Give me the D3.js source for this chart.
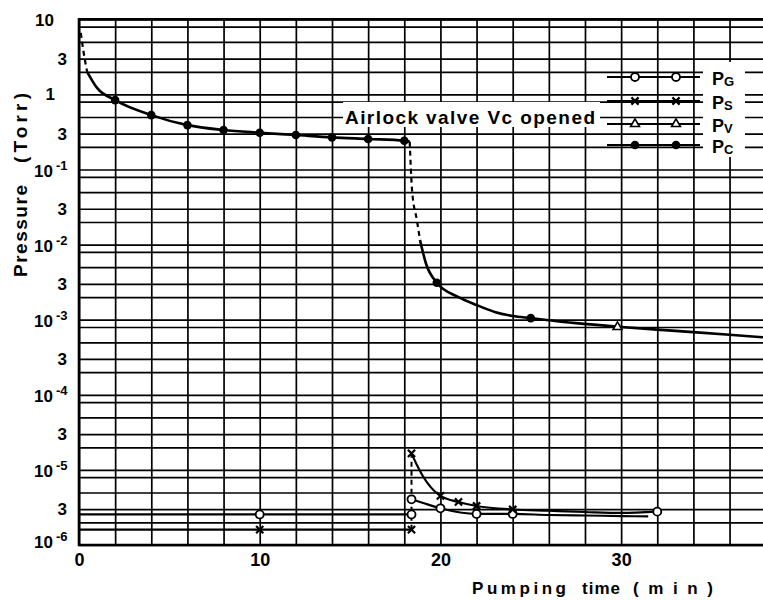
<!DOCTYPE html>
<html><head><meta charset="utf-8">
<script src="https://cdn.jsdelivr.net/npm/d3@7/dist/d3.min.js"></script>
<style>html,body{margin:0;padding:0;background:#fff;}svg{display:block;}</style>
</head><body>
<svg id="chart" width="763" height="600"></svg>
<script>
// ---------------- data ----------------
const xTickValues = [0, 10, 20, 30];
const xGridTimes = [0, 2, 4, 6, 8, 10, 12, 14, 16, 18, 20, 22, 24, 26, 28, 30, 32, 34, 36, 38];
const yGridMantissas = [1, 2, 3, 5, 8];
const yDecades = [-6, -5, -4, -3, -2, -1, 0];
const yLabelValues = [10, 3, 1, 0.3, 0.1, 0.03, 0.01, 0.003, 0.001, 3e-4, 1e-4, 3e-5, 1e-5, 3e-6, 1e-6];
const legendKeys = ["G", "S", "V", "C"];

// P_C (chamber) : filled dots
const pcStartTime = [0.1, 0.25, 0.45];
const pcStartValue = [6.6, 3.7, 2.0];
const pcRunTime = [0.45, 1, 2, 4, 6, 8, 10, 12, 14, 16, 18, 18.3];
const pcRunValue = [2.0, 1.22, 0.84, 0.53, 0.39, 0.336, 0.309, 0.288, 0.268, 0.255, 0.242, 0.235];
const pcRunPointTime = [2, 4, 6, 8, 10, 12, 14, 16, 18];
const pcRunPointValue = [0.84, 0.53, 0.39, 0.336, 0.309, 0.288, 0.268, 0.255, 0.242];
const pcDropTime = [18.3, 18.43, 18.7, 18.87];
const pcDropValue = [0.235, 0.053, 0.021, 0.0115];
const pcAfterTime = [18.87, 19.2, 19.8, 21, 22, 23, 24, 25, 27.5, 30, 33, 36, 38];
const pcAfterValue = [0.0115, 0.0056, 0.0031, 0.002, 0.00157, 0.00127, 0.00112, 0.00105, 0.0009, 0.0008, 0.00071, 0.00063, 0.00058];
const pcAfterPointTime = [19.8, 25];
const pcAfterPointValue = [0.0031, 0.00105];

// P_V : open triangles
const pvPointTime = [29.8];
const pvPointValue = [0.0008];

// P_G : open circles
const pgBeforeTime = [0, 18.4];
const pgBeforeValue = [2.55e-6, 2.55e-6];
const pgBeforePointTime = [10, 18.4];
const pgBeforePointValue = [2.55e-6, 2.55e-6];
const pgAfterTime = [18.4, 19, 20, 22, 24, 26, 28, 30, 31.5];
const pgAfterValue = [4.06e-6, 3.66e-6, 3.08e-6, 2.59e-6, 2.59e-6, 2.51e-6, 2.47e-6, 2.43e-6, 2.4e-6];
const pgAfterPointTime = [18.4, 20, 22, 24, 32];
const pgAfterPointValue = [4.06e-6, 3.08e-6, 2.59e-6, 2.59e-6, 2.78e-6];

// P_S : crosses
const psBeforeTime = [0, 18.4];
const psBeforeValue = [1.6e-6, 1.6e-6];
const psBeforePointTime = [10, 18.4];
const psBeforePointValue = [1.6e-6, 1.6e-6];
const psJumpTime = [18.4, 18.4];
const psJumpValue = [1.6e-6, 1.66e-5];
const psAfterTime = [18.4, 18.7, 19, 20, 21, 22, 24, 26, 28, 30, 32];
const psAfterValue = [1.66e-5, 1.16e-5, 8.5e-6, 4.5e-6, 3.74e-6, 3.31e-6, 2.97e-6, 2.86e-6, 2.75e-6, 2.67e-6, 2.78e-6];
const psAfterPointTime = [18.4, 20, 21, 22, 24];
const psAfterPointValue = [1.66e-5, 4.5e-6, 3.74e-6, 3.31e-6, 2.97e-6];

// ---------------- drawing ----------------
const FONT = "'Liberation Sans', Arial, sans-serif";
const svg = d3.select("#chart");
const X0 = 79, X1 = 765.7, Y0 = 545, Y1 = 19.3;
const x = d3.scaleLinear().domain([0, 38]).range([X0, X1]);
const y = d3.scaleLog().domain([1e-6, 10]).range([Y0, Y1]);
const zip = (t, v) => t.map((ti, i) => [ti, v[i]]);

svg.append("rect").attr("width", 763).attr("height", 600).attr("fill", "#fff");

// grid
const yGridValues = yDecades.flatMap(e => yGridMantissas.map(m => +(m * Math.pow(10, e)).toPrecision(3))).concat([10]);
svg.append("g").attr("transform", `translate(${X0},0)`)
  .call(d3.axisLeft(y).tickValues(yGridValues).tickSize(-(X1 - X0)).tickFormat(""))
  .call(g => g.select(".domain").remove())
  .call(g => g.selectAll("line").attr("stroke", "#000").attr("stroke-width", 1.7));
svg.append("g").attr("transform", `translate(0,${Y0})`)
  .call(d3.axisBottom(x).tickValues(xGridTimes).tickSize(-(Y0 - Y1)).tickFormat(""))
  .call(g => g.select(".domain").remove())
  .call(g => g.selectAll("line").attr("stroke", "#000").attr("stroke-width", 1.7));

// white boxes behind texts
svg.append("rect").attr("x", 343).attr("y", 102).attr("width", 257).attr("height", 25).attr("fill", "#fff");
svg.append("rect").attr("x", 703).attr("y", 62).attr("width", 42).attr("height", 95).attr("fill", "#fff");

// frame
const frame = svg.append("g").attr("stroke", "#000").attr("stroke-width", 2.6);
frame.append("line").attr("x1", X0).attr("x2", X0).attr("y1", Y1 - 1).attr("y2", Y0 + 1);
frame.append("line").attr("x1", X0 - 1).attr("x2", 763).attr("y1", Y0).attr("y2", Y0);
frame.append("line").attr("x1", X0 - 1).attr("x2", 763).attr("y1", Y1).attr("y2", Y1);

// lines
const smooth = d3.line().x(d => x(d[0])).y(d => y(d[1])).curve(d3.curveMonotoneX);
const straight = d3.line().x(d => x(d[0])).y(d => y(d[1]));
const gData = svg.append("g").attr("fill", "none").attr("stroke", "#000");
function path(gen, data, w, dash) {
  const p = gData.append("path").attr("d", gen(data)).attr("stroke-width", w);
  if (dash) p.attr("stroke-dasharray", dash);
  return p;
}
path(smooth, zip(pcStartTime, pcStartValue), 2.2, "5,4");
path(smooth, zip(pcRunTime, pcRunValue), 2.6);
path(smooth, zip(pcDropTime, pcDropValue), 2.2, "5,4");
path(smooth, zip(pcAfterTime, pcAfterValue), 2.6);
path(straight, zip(pgBeforeTime, pgBeforeValue), 2.2);
path(straight, zip(psBeforeTime, psBeforeValue), 2.2);
path(straight, zip(psJumpTime, psJumpValue), 2.0, "5,4");
path(smooth, zip(psAfterTime, psAfterValue), 2.2);
path(smooth, zip(pgAfterTime, pgAfterValue), 2.2);

// markers
const gMark = svg.append("g");
function drawMarker(g, type, cx, cy) {
  if (type === "dot") {
    g.append("circle").attr("cx", cx).attr("cy", cy).attr("r", 4.3).attr("fill", "#000");
  } else if (type === "circle") {
    g.append("circle").attr("cx", cx).attr("cy", cy).attr("r", 4).attr("fill", "#fff").attr("stroke", "#000").attr("stroke-width", 1.8);
  } else if (type === "cross") {
    const s = 3.6;
    g.append("path").attr("d", `M${cx - s},${cy - s}L${cx + s},${cy + s}M${cx - s},${cy + s}L${cx + s},${cy - s}`)
      .attr("stroke", "#000").attr("stroke-width", 2.2).attr("fill", "none");
  } else if (type === "triangle") {
    g.append("path").attr("transform", `translate(${cx},${cy})`)
      .attr("d", d3.symbol(d3.symbolTriangle, 34)())
      .attr("fill", "#fff").attr("stroke", "#000").attr("stroke-width", 1.6);
  }
}
function points(type, t, v) { t.forEach((ti, i) => drawMarker(gMark, type, x(ti), y(v[i]))); }
points("dot", pcRunPointTime, pcRunPointValue);
points("dot", pcAfterPointTime, pcAfterPointValue);
points("triangle", pvPointTime, pvPointValue);
points("circle", pgBeforePointTime, pgBeforePointValue);
points("cross", psBeforePointTime, psBeforePointValue);
points("circle", pgAfterPointTime, pgAfterPointValue);
points("cross", psAfterPointTime, psAfterPointValue);

// legend
const legendMarkers = { G: "circle", S: "cross", V: "triangle", C: "dot" };
const legendRowY = [77, 101, 124, 145];
legendKeys.forEach((k, i) => {
  const ly = legendRowY[i];
  const lg = svg.append("g");
  lg.append("line").attr("x1", 607).attr("x2", 700).attr("y1", ly).attr("y2", ly).attr("stroke", "#000").attr("stroke-width", 2);
  drawMarker(lg, legendMarkers[k], 635, ly);
  drawMarker(lg, legendMarkers[k], 676, ly);
  const t = lg.append("text").attr("x", 712).attr("y", ly + 8)
    .attr("font-family", FONT).attr("font-weight", "bold").attr("font-size", 18).attr("fill", "#000");
  t.append("tspan").text("P");
  t.append("tspan").attr("font-size", 13).attr("dy", 1).text(k);
});

// annotation
svg.append("text").attr("x", 345).attr("y", 124)
  .attr("font-family", FONT).attr("font-weight", "bold").attr("font-size", 19)
  .attr("textLength", 250).attr("lengthAdjust", "spacing")
  .text("Airlock valve Vc opened");

// x tick labels
svg.append("g").attr("transform", `translate(0,${Y0})`)
  .call(d3.axisBottom(x).tickValues(xTickValues).tickSize(0).tickPadding(8).tickFormat(d3.format("d")))
  .call(g => g.select(".domain").remove())
  .call(g => g.selectAll("text").attr("font-family", FONT).attr("font-weight", "bold").attr("font-size", 18).attr("fill", "#000"));

// y tick labels
const gy = svg.append("g").attr("font-family", FONT).attr("font-weight", "bold").attr("fill", "#000");
yLabelValues.forEach(v => {
  const e = Math.round(Math.log10(v));
  const isThree = Math.abs(v / Math.pow(10, Math.floor(Math.log10(v) + 1e-9)) - 3) < 0.01;
  const cy = Math.min(y(v), 541) + 6;
  if (isThree) {
    gy.append("text").attr("x", 67).attr("y", cy).attr("text-anchor", "end").attr("font-size", 17).text("3");
  } else if (e === 1) {
    gy.append("text").attr("x", 54).attr("y", cy + 1).attr("text-anchor", "end").attr("font-size", 17).text("10");
  } else if (e === 0) {
    gy.append("text").attr("x", 55).attr("y", cy).attr("text-anchor", "end").attr("font-size", 17).text("1");
  } else {
    gy.append("text").attr("x", 53).attr("y", cy + 1).attr("text-anchor", "end").attr("font-size", 17).text("10");
    gy.append("text").attr("x", 56).attr("y", cy - 6).attr("text-anchor", "start").attr("font-size", 13).text("-" + (-e));
  }
});

// axis titles
const yt = svg.append("g").attr("font-family", FONT).attr("font-weight", "bold").attr("font-size", 19);
yt.append("text").attr("transform", "translate(27,277) rotate(-90)").attr("textLength", 92).attr("lengthAdjust", "spacing").text("Pressure");
yt.append("text").attr("transform", "translate(27,163) rotate(-90)").attr("textLength", 70).attr("lengthAdjust", "spacing").text("(Torr)");
const xt = svg.append("g").attr("font-family", FONT).attr("font-weight", "bold").attr("font-size", 17);
xt.append("text").attr("x", 472).attr("y", 594).attr("textLength", 94).attr("lengthAdjust", "spacing").text("Pumping");
xt.append("text").attr("x", 582).attr("y", 594).attr("textLength", 38).attr("lengthAdjust", "spacing").text("time");
xt.append("text").attr("x", 633).attr("y", 594).attr("textLength", 80).attr("lengthAdjust", "spacing").text("(min)");
</script>
</body></html>
